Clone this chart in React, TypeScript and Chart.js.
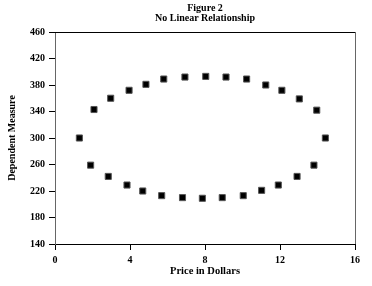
import React, { useEffect, useRef } from "react";
import { Chart, registerables } from "chart.js";

Chart.register(...registerables);

const upperX = [1.3, 2.08, 2.97, 3.95, 4.85, 5.8, 6.93, 8.04, 9.12, 10.22, 11.24, 12.1, 13.03, 13.96, 14.42];
const upperY = [300, 343, 360, 372, 381, 389, 392, 393, 392, 389, 380, 372, 359, 342, 300];
const lowerX = [1.9, 2.84, 3.84, 4.68, 5.69, 6.8, 7.86, 8.92, 10.04, 11.02, 11.91, 12.91, 13.81];
const lowerY = [259, 242, 229, 220, 213, 210, 209, 210, 213, 221, 229, 242, 259];

const titleLines = ["Figure 2", "No Linear Relationship"];
const xTitle = "Price in Dollars";
const yTitle = "Dependent Measure";

const FONT = "'Liberation Serif', 'Times New Roman', serif";

export default function App() {
  const ref = useRef<HTMLCanvasElement | null>(null);
  useEffect(() => {
    if (!ref.current) return;
    const points = [
      ...upperX.map((x, i) => ({ x, y: upperY[i] })),
      ...lowerX.map((x, i) => ({ x, y: lowerY[i] })),
    ];
    const framePlugin = {
      id: "frame",
      afterDraw(chart: any) {
        const { ctx, chartArea } = chart;
        const { left, right, top, bottom } = chartArea;
        ctx.save();
        ctx.lineWidth = 1;
        ctx.strokeStyle = "#000";
        ctx.beginPath();
        ctx.moveTo(left, top + 0.5);
        ctx.lineTo(right, top + 0.5);
        ctx.stroke();
        ctx.strokeStyle = "#666";
        ctx.beginPath();
        ctx.moveTo(right + 0.5, top);
        ctx.lineTo(right + 0.5, bottom);
        ctx.stroke();
        ctx.fillStyle = "#000";
        ctx.font = `bold 10px ${FONT}`;
        ctx.textAlign = "center";
        ctx.textBaseline = "middle";
        const cx = (left + right) / 2;
        ctx.fillText(titleLines[0], cx, 8);
        ctx.fillText(titleLines[1], cx, 18);
        ctx.restore();
      },
    };
    const chart = new Chart(ref.current, {
      type: "scatter",
      data: {
        datasets: [
          {
            data: points,
            pointStyle: "rect",
            pointRadius: 4.3,
            backgroundColor: "#000",
            borderColor: "#555",
            borderWidth: 1,
          },
        ],
      },
      options: {
        animation: false,
        responsive: false,
        layout: { padding: { top: 32, right: 17, left: 0, bottom: 0 } },
        plugins: { legend: { display: false }, tooltip: { enabled: false }, title: { display: false } },
        scales: {
          x: {
            type: "linear",
            min: 0,
            max: 16,
            afterFit: (s: any) => { s.height = 42; },
            ticks: { stepSize: 4, color: "#000", padding: 4, font: { family: FONT, size: 10, weight: "bold" } },
            grid: { drawOnChartArea: false, drawTicks: true, tickLength: 6, color: "#000" },
            border: { color: "#000", width: 1 },
            title: { display: true, text: xTitle, color: "#000", padding: { top: 0, bottom: 8 }, font: { family: FONT, size: 10.5, weight: "bold" } },
          },
          y: {
            type: "linear",
            min: 140,
            max: 460,
            afterFit: (s: any) => { s.width = 55; },
            ticks: { stepSize: 40, color: "#000", padding: 4, font: { family: FONT, size: 10, weight: "bold" } },
            grid: { drawOnChartArea: false, drawTicks: true, tickLength: 6, color: "#000" },
            border: { color: "#666", width: 1 },
            title: { display: true, text: yTitle, color: "#000", padding: { top: 6, bottom: 0 }, font: { family: FONT, size: 10, weight: "bold" } },
          },
        },
      },
      plugins: [framePlugin],
    } as any);
    return () => chart.destroy();
  }, []);
  return (
    <div style={{ position: "fixed", left: 0, top: 0, width: 372, height: 286, background: "#fff" }}>
      <canvas ref={ref} width={372} height={286} style={{ width: 372, height: 286, display: "block" }} />
    </div>
  );
}
